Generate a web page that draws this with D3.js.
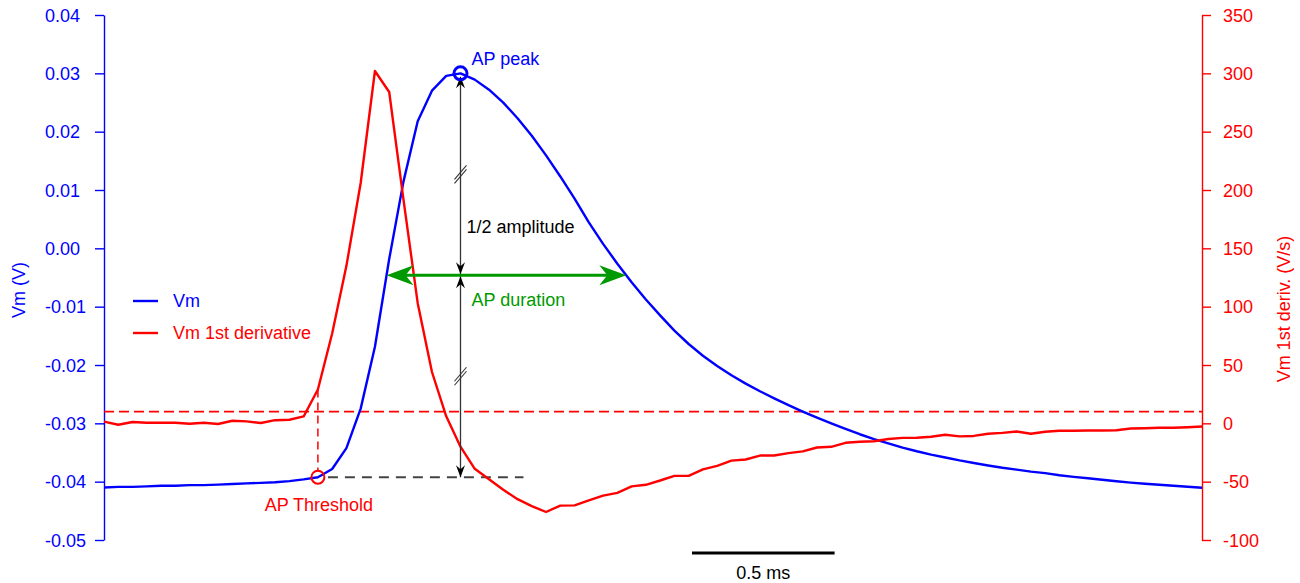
<!DOCTYPE html>
<html>
<head>
<meta charset="utf-8">
<script src="https://cdn.jsdelivr.net/npm/d3@7"></script>
<style>
  body { margin: 0; background: #fff; }
  text { font-family: "Liberation Sans", Arial, sans-serif; }
</style>
</head>
<body>
<svg id="chart" width="1300" height="583"></svg>
<script>
const dt = 0.05; // ms between samples

const vm = [
  -0.0410, -0.0409, -0.0409, -0.0408, -0.0407, -0.0407, -0.0406, -0.0406, -0.0405, -0.0404,
  -0.0403, -0.0402, -0.0401, -0.0399, -0.0396, -0.03924, -0.03782, -0.03424, -0.02748, -0.01688,
  -0.00184, 0.01144, 0.02177, 0.02703, 0.02956, 0.0300, 0.02892, 0.0272, 0.02497, 0.0223,
  0.01929, 0.01593, 0.01232, 0.00853, 0.00444, 0.00076, -0.00263, -0.0058, -0.00877, -0.01149,
  -0.01411, -0.0164, -0.01841, -0.02018, -0.02177, -0.02319, -0.0245, -0.02572, -0.02688, -0.02798,
  -0.02903, -0.03002, -0.03097, -0.03187, -0.03269, -0.03345, -0.03416, -0.03479, -0.03536, -0.03586,
  -0.03636, -0.0368, -0.03722, -0.03761, -0.03794, -0.03827, -0.03854, -0.0389, -0.03918, -0.03942,
  -0.03966, -0.03992, -0.04016, -0.04035, -0.04052, -0.04069, -0.04086, -0.04104
];

const dvdt = [
  1.4, -1.2, 1.1, 0.5, 0.5, 0.5, -0.3, 0.5, -0.6, 2.2,
  1.7, 0.3, 2.7, 3.1, 5.9, 29, 77, 135, 206, 302,
  284, 192, 103, 44, 6, -20, -39, -48, -57, -65,
  -71, -76, -70.5, -70.3, -66, -62, -59.6, -54, -52.7, -49,
  -45, -45, -39.4, -36.4, -32, -31, -27.6, -27.6, -25.5, -24,
  -20.7, -20.1, -16.7, -15.8, -15.4, -13.4, -12.5, -12.4, -11.5, -9.8,
  -11.2, -10.8, -8.9, -8.2, -7, -8.9, -7.2, -6.4, -6.4, -6.2,
  -6.1, -5.9, -4.4, -4.2, -3.8, -3.8, -3.3, -2.7
];

const leftTicks = [-0.05, -0.04, -0.03, -0.02, -0.01, 0, 0.01, 0.02, 0.03, 0.04];
const leftTickLabels = ["-0.05", "-0.04", "-0.03", "-0.02", "-0.01", "0.00", "0.01", "0.02", "0.03", "0.04"];
const rightTicks = [-100, -50, 0, 50, 100, 150, 200, 250, 300, 350];
const rightTickLabels = ["-100", "-50", "0", "50", "100", "150", "200", "250", "300", "350"];

const dvdtThreshold = 10; // V/s
const scaleBarMs = 0.5;

const legendItems = [
  { name: "Vm", color: "#0000ff" },
  { name: "Vm 1st derivative", color: "#ff0000" }
];

const BLUE = "#0000ff", RED = "#ff0000", GREEN = "#009a00", DARK = "#333";
const FONT = 18;

const svg = d3.select("#chart");
const time = vm.map((_, i) => i * dt);

const x = d3.scaleLinear().domain([0, (vm.length - 1) * dt]).range([104, 1202]);
const yL = d3.scaleLinear().domain([-0.05, 0.04]).range([540, 15]);
const yR = d3.scaleLinear().domain([-100, 350]).range([540, 15]);

// left axis
const gL = svg.append("g")
  .attr("transform", "translate(104,0)")
  .call(d3.axisLeft(yL).tickValues(leftTicks).tickSize(9).tickSizeOuter(0)
    .tickFormat((d, i) => leftTickLabels[i]));
gL.selectAll("path, line").attr("stroke", BLUE).attr("stroke-width", 1.4);
gL.selectAll("text").attr("fill", BLUE).attr("font-size", FONT)
  .attr("text-anchor", "start").attr("x", -59).attr("dy", "0.35em");

// right axis
const gR = svg.append("g")
  .attr("transform", "translate(1202,0)")
  .call(d3.axisRight(yR).tickValues(rightTicks).tickSize(9).tickSizeOuter(0)
    .tickFormat((d, i) => rightTickLabels[i]));
gR.selectAll("path, line").attr("stroke", RED).attr("stroke-width", 1.4);
gR.selectAll("text").attr("fill", RED).attr("font-size", FONT)
  .attr("x", 21).attr("dy", "0.35em");

svg.append("text")
  .attr("transform", "translate(25,290) rotate(-90)")
  .attr("text-anchor", "middle").attr("fill", BLUE).attr("font-size", FONT)
  .text("Vm (V)");
svg.append("text")
  .attr("transform", "translate(1290,309) rotate(-90)")
  .attr("text-anchor", "middle").attr("fill", RED).attr("font-size", FONT)
  .text("Vm 1st deriv. (V/s)");

// derived markers
const iPeak = d3.maxIndex(vm);
const iThr = dvdt.findIndex(v => v > dvdtThreshold);
const vPeak = vm[iPeak], vThr = vm[iThr];
const vHalf = (vPeak + vThr) / 2;
const crossAt = (i0, i1) => {
  const f = (vHalf - vm[i0]) / (vm[i1] - vm[i0]);
  return time[i0] + f * dt;
};
let iUp = 0;
while (!(vm[iUp] <= vHalf && vm[iUp + 1] > vHalf)) iUp++;
let iDown = iPeak;
while (!(vm[iDown] >= vHalf && vm[iDown + 1] < vHalf)) iDown++;
const tUp = crossAt(iUp, iUp + 1), tDown = crossAt(iDown, iDown + 1);

const xp = x(time[iPeak]), yp = yL(vPeak);
const xt = x(time[iThr]), yt = yL(vThr);
const yh = yL(vHalf);

// threshold dashed lines
svg.append("line")
  .attr("x1", 104).attr("x2", 1202)
  .attr("y1", yR(dvdtThreshold)).attr("y2", yR(dvdtThreshold))
  .attr("stroke", RED).attr("stroke-width", 1.6).attr("stroke-dasharray", "10,5");
svg.append("line")
  .attr("x1", xt).attr("x2", xt)
  .attr("y1", yR(dvdt[iThr])).attr("y2", yt - 6)
  .attr("stroke", RED).attr("stroke-width", 1.5).attr("stroke-dasharray", "8,5");
svg.append("line")
  .attr("x1", xt + 10).attr("x2", xp + 63)
  .attr("y1", yt).attr("y2", yt)
  .attr("stroke", "#444").attr("stroke-width", 2).attr("stroke-dasharray", "10,7");

// traces
const lineVm = d3.line().x((d, i) => x(time[i])).y(d => yL(d));
const lineD = d3.line().x((d, i) => x(time[i])).y(d => yR(d));
svg.append("path").datum(vm).attr("d", lineVm)
  .attr("fill", "none").attr("stroke", BLUE).attr("stroke-width", 2.4).attr("stroke-linejoin", "round");
svg.append("path").datum(dvdt).attr("d", lineD)
  .attr("fill", "none").attr("stroke", RED).attr("stroke-width", 2.4).attr("stroke-linejoin", "round");

// arrowhead (stealth) pointing in direction ang, tip at (tx,ty)
const head = (tx, ty, ang, len, half, notch) => {
  const c = Math.cos(ang), s = Math.sin(ang);
  const pt = (a, b) => [tx - a * c - b * s, ty - a * s + b * c];
  return d3.line()([[tx, ty], pt(len, half), pt(notch, 0), pt(len, -half)]) + "Z";
};

// vertical amplitude arrows
const vx = xp;
svg.append("line").attr("x1", vx).attr("x2", vx).attr("y1", yp + 4).attr("y2", yt)
  .attr("stroke", DARK).attr("stroke-width", 1.3);
const up = -Math.PI / 2, down = Math.PI / 2;
[[yp + 3, up], [yh - 1, down], [yh + 1, up], [yt, down]].forEach(([ty, a]) => {
  svg.append("path").attr("d", head(vx, ty, a, 12, 4.5, 8)).attr("fill", "#000");
});

// break marks
[(yp + yh) / 2, (yh + yt) / 2].forEach(by => {
  [-2, 2].forEach(o => {
    svg.append("line")
      .attr("x1", vx - 6).attr("y1", by + o + 7)
      .attr("x2", vx + 6).attr("y2", by + o - 7)
      .attr("stroke", DARK).attr("stroke-width", 1.1);
  });
});

// AP duration arrow
const xu = x(tUp), xd = x(tDown);
svg.append("line").attr("x1", xu + 15).attr("x2", xd - 15).attr("y1", yh).attr("y2", yh)
  .attr("stroke", GREEN).attr("stroke-width", 3);
svg.append("path").attr("d", head(xu, yh, Math.PI, 27, 10, 19)).attr("fill", GREEN);
svg.append("path").attr("d", head(xd, yh, 0, 27, 10, 19)).attr("fill", GREEN);

// markers
svg.append("circle").attr("cx", xp).attr("cy", yp).attr("r", 6.5)
  .attr("fill", "none").attr("stroke", BLUE).attr("stroke-width", 3);
svg.append("circle").attr("cx", xt).attr("cy", yt).attr("r", 6.5)
  .attr("fill", "none").attr("stroke", RED).attr("stroke-width", 2);

// annotation text
svg.append("text").attr("x", xp + 11).attr("y", yp - 8)
  .attr("fill", BLUE).attr("font-size", FONT).text("AP peak");
svg.append("text").attr("x", xp + 6).attr("y", yh - 42)
  .attr("fill", "#000").attr("font-size", FONT).text("1/2 amplitude");
svg.append("text").attr("x", xp + 11).attr("y", yh + 31)
  .attr("fill", GREEN).attr("font-size", FONT).text("AP duration");
svg.append("text").attr("x", xt + 1).attr("y", yt + 34).attr("text-anchor", "middle")
  .attr("fill", RED).attr("font-size", FONT).text("AP Threshold");

// legend
const lg = svg.append("g").attr("transform", "translate(133,301)");
legendItems.forEach((d, i) => {
  const g = lg.append("g").attr("transform", `translate(0,${i * 32})`);
  g.append("line").attr("x1", 0).attr("x2", 25).attr("stroke", d.color).attr("stroke-width", 2.4);
  g.append("text").attr("x", 40).attr("dy", "0.35em")
    .attr("fill", d.color).attr("font-size", FONT).text(d.name);
});

// scale bar
const sb0 = 692;
const sbLen = x(scaleBarMs) - x(0);
svg.append("line").attr("x1", sb0).attr("x2", sb0 + sbLen).attr("y1", 553).attr("y2", 553)
  .attr("stroke", "#000").attr("stroke-width", 3);
svg.append("text").attr("x", sb0 + sbLen / 2).attr("y", 579).attr("text-anchor", "middle")
  .attr("fill", "#000").attr("font-size", FONT).text(scaleBarMs + " ms");
</script>
</body>
</html>
